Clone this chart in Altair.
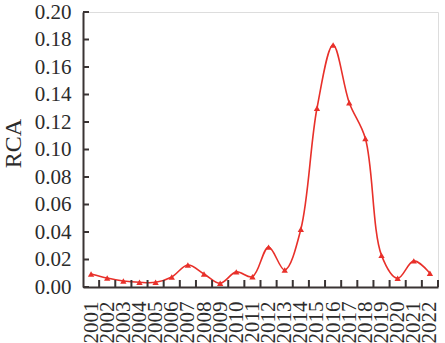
import altair as alt
import pandas as pd

years = list(range(2001, 2023))
rca = [0.0095, 0.0065, 0.0044, 0.0034, 0.0034, 0.0073, 0.016, 0.0095, 0.0027, 0.011,
       0.0075, 0.029, 0.0124, 0.042, 0.130, 0.176, 0.134, 0.108, 0.023, 0.0063, 0.019, 0.010]
y_ticks = [0.0, 0.02, 0.04, 0.06, 0.08, 0.10, 0.12, 0.14, 0.16, 0.18, 0.20]
x_bounds = [y + 0.5 for y in years]

df = pd.DataFrame({"year": years, "rca": rca})
df_yt = pd.DataFrame({"v": y_ticks})
df_xt = pd.DataFrame({"year": x_bounds})

AX = "#3a3434"
FONT = "Liberation Serif"
RED = "#e8302a"

xscale = alt.Scale(domain=[2000.5, 2022.5], nice=False, zero=False)
yscale = alt.Scale(domain=[0, 0.2], nice=False)

x_axis = alt.Axis(values=years, format="d", labelAngle=270, labelAlign="right",
                  labelBaseline="middle", labelPadding=14, ticks=False, grid=False,
                  domainColor=AX, domainWidth=2, labelFont=FONT, labelFontSize=21,
                  labelColor="#2b2b2b", title=None, labelOverlap=False, labelFlush=False)
y_axis = alt.Axis(values=y_ticks, format=".2f", ticks=False, grid=False,
                  labelPadding=12, domainColor=AX, domainWidth=2, labelFont=FONT,
                  labelFontSize=21, labelColor="#2b2b2b", title="RCA",
                  titleFont=FONT, titleFontSize=24, titleFontWeight="normal",
                  titleColor="#2b2b2b", titleAngle=270, titleX=-70, titleY=131,
                  titleAlign="center", titleBaseline="middle", labelOverlap=False,
                  labelFlush=False)

X = alt.X("year:Q", scale=xscale, axis=x_axis)

line = alt.Chart(df).mark_line(color=RED, strokeWidth=1.6, interpolate="catmull-rom").encode(
    x=X,
    y=alt.Y("rca:Q", scale=yscale, axis=y_axis),
)
pts = alt.Chart(df).mark_point(shape="triangle-up", filled=True, color=RED, size=40, opacity=1).encode(
    x=X,
    y=alt.Y("rca:Q", scale=yscale, axis=y_axis),
)
yt = alt.Chart(df_yt).mark_rule(color=AX, strokeWidth=2).encode(
    y=alt.Y("v:Q", scale=yscale, axis=y_axis),
    x=alt.value(0), x2=alt.value(6),
)
xt = alt.Chart(df_xt).mark_rule(color=AX, strokeWidth=2).encode(
    x=X,
    y=alt.value(275), y2=alt.value(268),
)

chart = alt.layer(line, pts, xt, yt).properties(
    width=355, height=275,
    autosize=alt.AutoSizeParams(type="none"),
    padding={"left": 83, "top": 12, "right": 7, "bottom": 56},
).configure_view(stroke=None).configure(background="white")

chart.save("out.html", embed_options={"renderer": "svg", "actions": False})
